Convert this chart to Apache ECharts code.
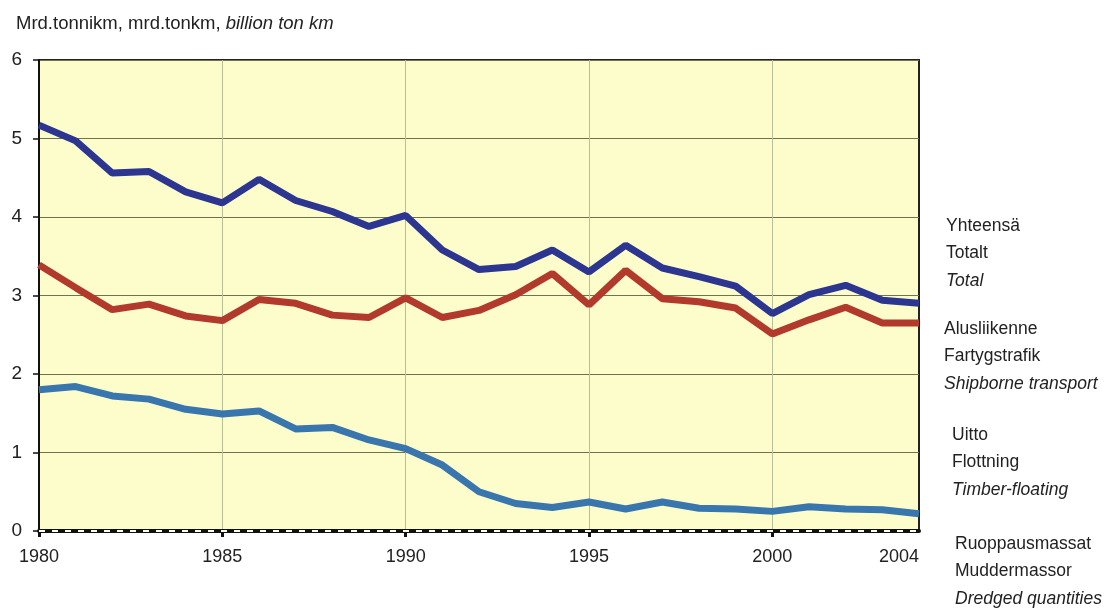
<!DOCTYPE html>
<html>
<head>
<meta charset="utf-8">
<script src="https://cdn.jsdelivr.net/npm/echarts@6/dist/echarts.min.js"></script>
<style>html,body{margin:0;padding:0;background:#fff}#c{width:1111px;height:610px}</style>
</head>
<body>
<div id="c"></div>
<script>
var years = ['1980','1981','1982','1983','1984','1985','1986','1987','1988','1989','1990','1991','1992','1993','1994','1995','1996','1997','1998','1999','2000','2001','2002','2003','2004'];
var total = [5.17,4.97,4.56,4.58,4.32,4.18,4.48,4.21,4.07,3.88,4.02,3.58,3.33,3.37,3.58,3.30,3.64,3.35,3.24,3.12,2.77,3.01,3.13,2.94,2.90];
var shipborne = [3.39,3.10,2.82,2.89,2.74,2.68,2.95,2.90,2.75,2.72,2.97,2.72,2.81,3.01,3.28,2.88,3.32,2.96,2.92,2.84,2.51,2.69,2.85,2.65,2.65];
var timber = [1.80,1.84,1.72,1.68,1.55,1.49,1.53,1.30,1.32,1.16,1.05,0.84,0.50,0.35,0.30,0.37,0.28,0.37,0.29,0.28,0.25,0.31,0.28,0.27,0.22];
var dredged = [0,0,0,0,0,0,0,0,0,0,0,0,0,0,0,0,0,0,0,0,0,0,0,0,0];
var yTicks = [0,1,2,3,4,5,6];
var shownYears = ['1980','1985','1990','1995','2000','2004'];
var gridYears = ['1985','1990','1995','2000'];
var legendBlocks = [
  ['Yhteensä','Totalt','Total'],
  ['Alusliikenne','Fartygstrafik','Shipborne transport'],
  ['Uitto','Flottning','Timber-floating'],
  ['Ruoppausmassat','Muddermassor','Dredged quantities']
];

var chart = echarts.init(document.getElementById('c'));
var FONT = '"Liberation Sans", Arial, sans-serif';
var legendPos = [[946,217],[944,320],[952,426],[955,535]];
var graphics = legendBlocks.map(function(b, i){
  return {
    type:'text', left:legendPos[i][0], top:legendPos[i][1],
    style:{
      text:'{n|'+b[0]+'}\n{n|'+b[1]+'}\n{i|'+b[2]+'}',
      rich:{
        n:{fontSize:17.5,fontFamily:FONT,fill:'#222',lineHeight:27.5},
        i:{fontSize:17.5,fontFamily:FONT,fill:'#222',fontStyle:'italic',lineHeight:27.5}
      }
    }
  };
});
var option = {
  animation:false,
  backgroundColor:'#ffffff',
  title:{
    text:'{n|Mrd.tonnikm, mrd.tonkm, }{i|billion ton km}',
    left:11, top:9,
    textStyle:{
      fontWeight:'normal',
      rich:{
        n:{fontSize:18.5,fontFamily:FONT,color:'#222',fontWeight:'normal'},
        i:{fontSize:18.5,fontFamily:FONT,color:'#222',fontStyle:'italic',fontWeight:'normal'}
      }
    }
  },
  graphic:graphics,
  grid:{left:39,right:192,top:60,bottom:79,show:true,backgroundColor:'#fdfdcb',borderColor:'#222',borderWidth:2},
  xAxis:{
    type:'category', data:years, boundaryGap:false,
    axisLine:{lineStyle:{color:'#111',width:4}},
    axisTick:{interval:function(i,v){return shownYears.indexOf(v)>=0 && v!=='2004';},length:6,lineStyle:{color:'#111',width:3}},
    axisLabel:{interval:function(i,v){return shownYears.indexOf(v)>=0;},margin:17,fontSize:18,fontFamily:FONT,color:'#222',alignMaxLabel:'right'},
    splitLine:{show:true,interval:function(i,v){return gridYears.indexOf(v)>=0;},lineStyle:{color:'#b9bf94',width:1}}
  },
  yAxis:{
    type:'value', min:yTicks[0], max:yTicks[yTicks.length-1], interval:1,
    axisLine:{show:true,lineStyle:{color:'#111',width:2}},
    axisTick:{show:true,length:6,lineStyle:{color:'#111',width:1.5}},
    axisLabel:{margin:17,fontSize:19,fontFamily:FONT,color:'#222'},
    splitLine:{show:true,lineStyle:{color:'#6f7450',width:1}}
  },
  series:[
    {name:'Total',type:'line',data:total,symbol:'none',lineStyle:{color:'#2c3590',width:7},z:5},
    {name:'Shipborne transport',type:'line',data:shipborne,symbol:'none',lineStyle:{color:'#b13a2c',width:7},z:4},
    {name:'Timber-floating',type:'line',data:timber,symbol:'none',lineStyle:{color:'#3a76ae',width:7},z:3},
    {name:'Dredged quantities',type:'line',data:dredged,symbol:'none',lineStyle:{color:'#ffffff',width:2,type:[6,7]},z:6}
  ]
};
chart.setOption(option);
</script>
</body>
</html>
